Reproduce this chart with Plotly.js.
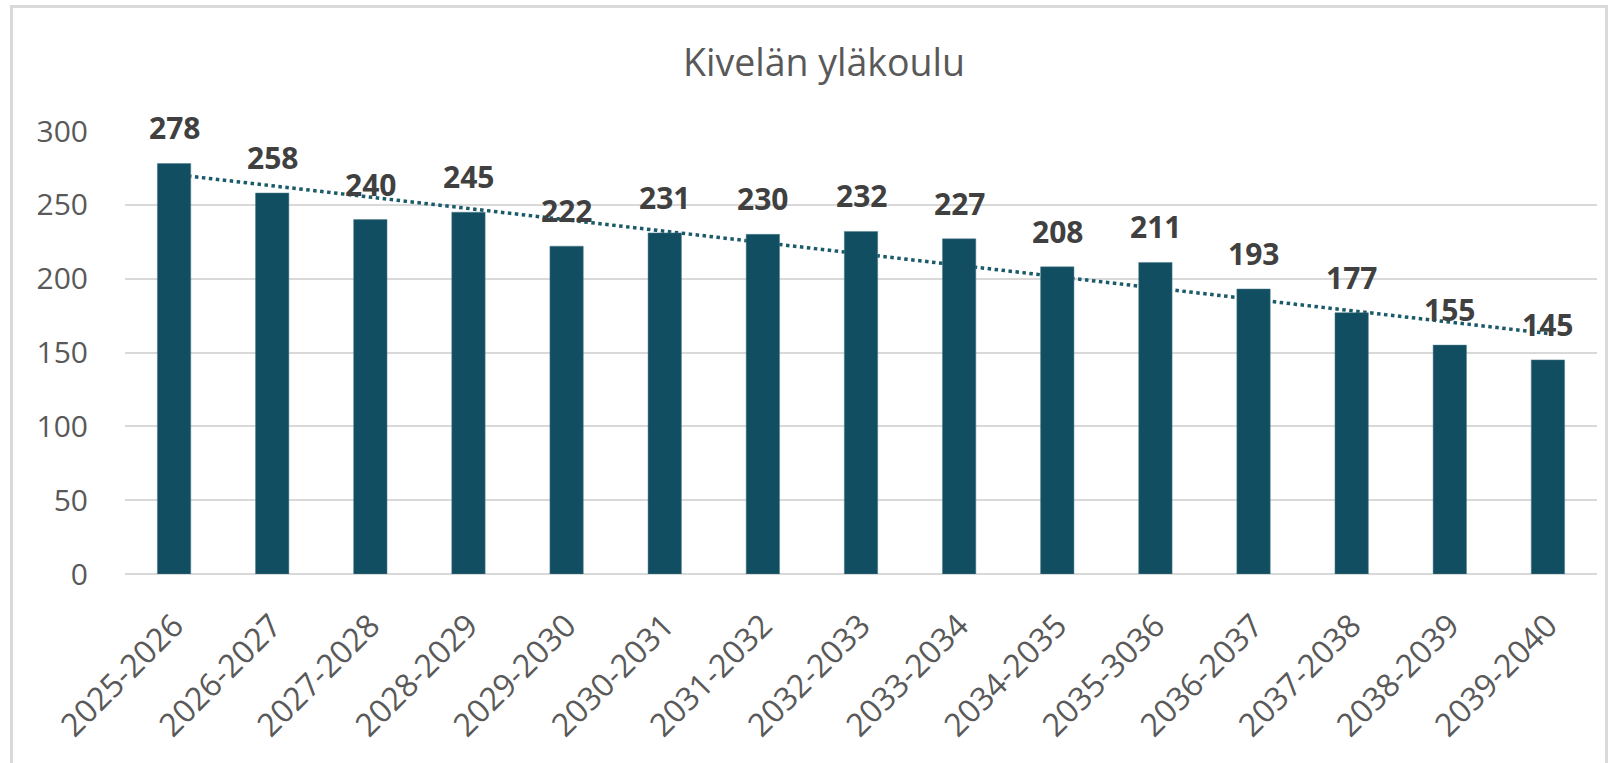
<!DOCTYPE html>
<html><head><meta charset="utf-8">
<script src="https://cdn.plot.ly/plotly-3.0.1.min.js"></script>
<style>
html,body{margin:0;padding:0;background:#fff;overflow:hidden}
#chart{width:1611px;height:763px;position:absolute;left:0;top:0}
#frame{position:absolute;left:10px;top:5px;width:1592px;height:780px;border:3px solid #d9d9d9;pointer-events:none}
</style></head>
<body>
<div id="chart"></div>
<div id="frame"></div>
<script>
const categories = ["2025-2026","2026-2027","2027-2028","2028-2029","2029-2030","2030-2031","2031-2032","2032-2033","2033-2034","2034-2035","2035-3036","2036-2037","2037-2038","2038-2039","2039-2040"];
const values = [278,258,240,245,222,231,230,232,227,208,211,193,177,155,145];
const trendX = ["2025-2026","2039-2040"];
const trendY = [270.6,162.9];
const chartTitle = "Kivelän yläkoulu";

const font = "'Open Sans', 'Segoe UI', sans-serif";
const barColor = "#124E61";

const traces = [
  {type:"scatter", mode:"lines", x:trendX, y:trendY, xaxis:"x", yaxis:"y",
   line:{color:"#1a5a6b", width:3.5, dash:"dot"}, hoverinfo:"skip", showlegend:false},
  {type:"bar", x:categories, y:values, xaxis:"x2", yaxis:"y2",
   marker:{color:barColor, line:{color:"#4f7f8c", width:0.5}}, showlegend:false}
];

const annotations = categories.map((c,i)=>({
  x:c, y:values[i], xref:"x2", yref:"y2", text:String(values[i]),
  showarrow:false, yanchor:"bottom", yshift:13,
  font:{family:font, size:30, color:"#404040", weight:"bold"}
}));

const axisBase = {range:[-0.5,14.5], type:"category", fixedrange:true};
const layout = {
  width:1611, height:763,
  margin:{l:125, r:14, t:131, b:189},
  paper_bgcolor:"#ffffff", plot_bgcolor:"rgba(0,0,0,0)",
  bargap:0.66,
  title:{text:chartTitle, x:0.5115, xref:"container", xanchor:"center", y:1-63/763, yref:"container", yanchor:"middle",
         font:{family:font, size:37.5, color:"#595959"}},
  xaxis:Object.assign({}, axisBase, {
    categoryarray:categories, categoryorder:"array",
    tickangle:-45, ticks:"outside", ticklen:19, tickcolor:"rgba(0,0,0,0)",
    tickfont:{family:font, size:32, color:"#595959"},
    showgrid:false, showline:false, zeroline:false
  }),
  yaxis:{range:[0,300], tickvals:[0,50,100,150,200,250,300], fixedrange:true,
    ticks:"outside", ticklen:30, tickcolor:"rgba(0,0,0,0)",
    tickfont:{family:font, size:30, color:"#595959"},
    showgrid:true, gridcolor:"#d9d9d9", gridwidth:2, zeroline:true, zerolinecolor:"#d9d9d9", zerolinewidth:2, showline:false},
  xaxis2:Object.assign({}, axisBase, {overlaying:"x", categoryarray:categories, categoryorder:"array",
    showticklabels:false, showgrid:false, zeroline:false, showline:false}),
  yaxis2:{range:[0,300], overlaying:"y", showticklabels:false, showgrid:false, zeroline:false, showline:false, fixedrange:true},
  annotations:annotations
};
Plotly.newPlot("chart", traces, layout, {displayModeBar:false, staticPlot:true});
</script>
</body></html>
